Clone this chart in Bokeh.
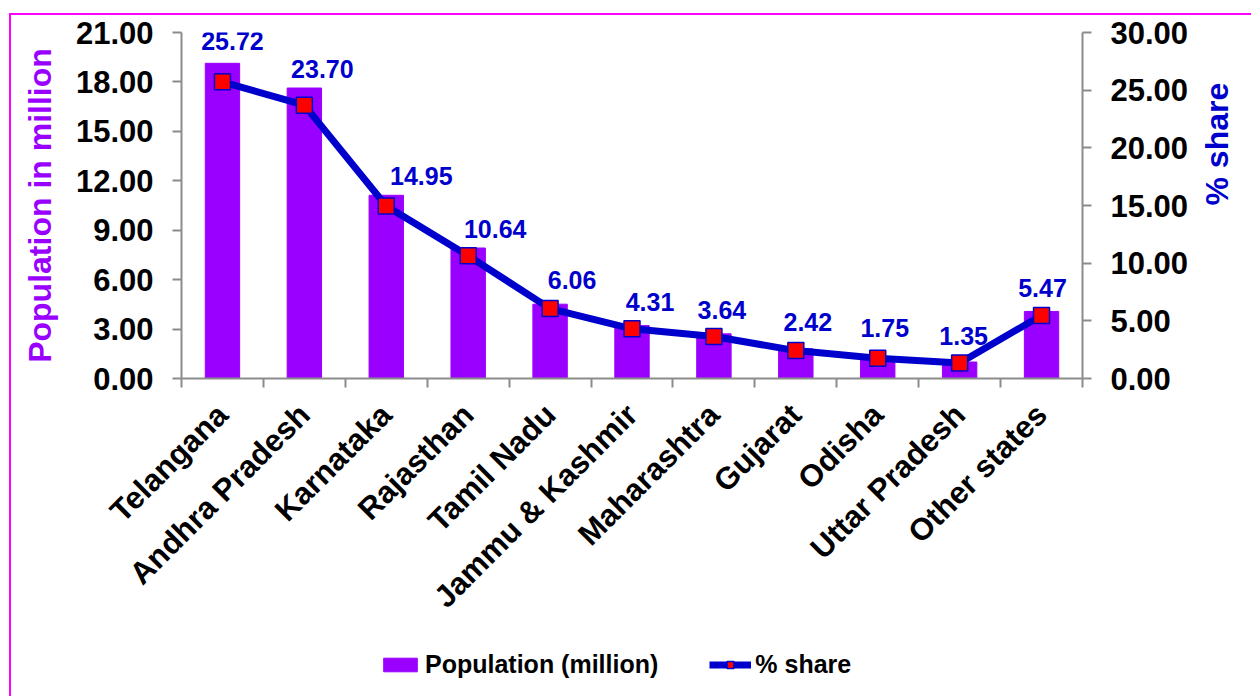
import math
from bokeh.plotting import figure
from bokeh.layouts import column
from bokeh.models import (ColumnDataSource, Range1d, LinearAxis, FixedTicker,
                          NumeralTickFormatter, Legend, LegendItem, LabelSet)
from bokeh.core.properties import value
from bokeh.embed import file_html
from bokeh.resources import INLINE

# ---- data ----
states = ["Telangana", "Andhra Pradesh", "Karnataka", "Rajasthan", "Tamil Nadu",
          "Jammu & Kashmir", "Maharashtra", "Gujarat", "Odisha", "Uttar Pradesh",
          "Other states"]
population_million = [19.13, 17.63, 11.12, 7.92, 4.51, 3.21, 2.71, 1.80, 1.30, 1.00, 4.07]
share_pct = [25.72, 23.70, 14.95, 10.64, 6.06, 4.31, 3.64, 2.42, 1.75, 1.35, 5.47]
share_labels = ["25.72", "23.70", "14.95", "10.64", "6.06", "4.31", "3.64", "2.42",
                "1.75", "1.35", "5.47"]
left_ticks = [0, 3, 6, 9, 12, 15, 18, 21]
right_ticks = [0, 5, 10, 15, 20, 25, 30]

# label nudges in pixels (style only)
label_dx = [10, 18, 35, 27, 22, 18, 8, 12, 7, 4, 1]
label_dy = [41, 36, 30, 27, 29, 27, 27, 29, 30, 27, 27]

FONT = "Liberation Sans"
PURPLE = "#9900FF"
BLUE = "#0000CC"
GREY = "#8C8C8C"
MAGENTA = "#FF00FF"

n = len(states)
xs = [i + 0.5 for i in range(n)]

src = ColumnDataSource(dict(x=xs, pop=population_million, share=share_pct,
                            lab=share_labels, dx=label_dx, dy=label_dy))

p = figure(frame_width=901, frame_height=346, x_range=Range1d(0, n), y_range=Range1d(0, 21),
           output_backend="svg", toolbar_location=None,
           min_border_left=170, min_border_right=169, min_border_top=17,
           min_border_bottom=257)
p.extra_y_ranges = {"share": Range1d(0, 30)}
p.xgrid.visible = False
p.ygrid.visible = False
p.outline_line_color = None

bar_style = dict(fill_color=PURPLE, line_color=PURPLE)
line_style = dict(line_color=BLUE, line_width=7)
mark_style = dict(marker="square", size=16, fill_color="#FF0000", line_color=BLUE,
                  line_width=1.5)

p.vbar(x="x", top="pop", width=0.42, source=src, **bar_style)
p.line(x="x", y="share", source=src, y_range_name="share", **line_style)
p.scatter(x="x", y="share", source=src, y_range_name="share", **mark_style)

labels = LabelSet(x="x", y="share", text="lab", source=src, y_range_name="share",
                  x_offset="dx", y_offset="dy", text_align="center",
                  text_baseline="middle", text_color=BLUE, text_font=value(FONT),
                  text_font_size="25px", text_font_style="bold")
p.add_layout(labels)

# x axis
xa = p.xaxis[0]
xa.ticker = FixedTicker(ticks=xs, minor_ticks=list(range(n + 1)))
xa.major_label_overrides = {x: s for x, s in zip(xs, states)}
xa.major_tick_out = 0
xa.major_tick_in = 0
xa.minor_tick_out = 9
xa.minor_tick_in = 0
xa.minor_tick_line_color = GREY
xa.minor_tick_line_width = 2
xa.axis_line_color = GREY
xa.axis_line_width = 2
xa.major_label_orientation = math.pi / 4
xa.major_label_standoff = 22
xa.major_label_text_font = FONT
xa.major_label_text_font_size = "31px"
xa.major_label_text_font_style = "bold"
xa.major_label_text_color = "black"

# left axis
ya = p.yaxis[0]
ya.ticker = FixedTicker(ticks=left_ticks)
ya.formatter = NumeralTickFormatter(format="0.00")
ya.major_tick_out = 9
ya.major_tick_in = 0
ya.minor_tick_out = 0
ya.major_tick_line_color = GREY
ya.major_tick_line_width = 2
ya.axis_line_color = GREY
ya.axis_line_width = 2
ya.major_label_standoff = 19
ya.major_label_text_font = FONT
ya.major_label_text_font_size = "31px"
ya.major_label_text_font_style = "bold"
ya.major_label_text_color = "black"
ya.axis_label = "Population in million"
ya.axis_label_text_color = PURPLE
ya.axis_label_text_font = FONT
ya.axis_label_text_font_size = "32px"
ya.axis_label_text_font_style = "bold"
ya.axis_label_standoff = 15

# right axis (ticks and numbers)
ra = LinearAxis(y_range_name="share", ticker=FixedTicker(ticks=right_ticks),
                formatter=NumeralTickFormatter(format="0.00"))
ra.major_tick_out = 9
ra.major_tick_in = 0
ra.minor_tick_out = 0
ra.major_tick_line_color = GREY
ra.major_tick_line_width = 2
ra.axis_line_color = GREY
ra.axis_line_width = 2
ra.major_label_standoff = 19
ra.major_label_text_font = FONT
ra.major_label_text_font_size = "31px"
ra.major_label_text_font_style = "bold"
ra.major_label_text_color = "black"
p.add_layout(ra, "right")

# right axis title, read bottom-to-top and centred on the plot height
rt = LinearAxis(y_range_name="share", ticker=FixedTicker(ticks=[]),
                bounds=(0, 19.25))
rt.axis_line_color = None
rt.major_tick_out = 0
rt.major_tick_in = 0
rt.minor_tick_out = 0
rt.minor_tick_in = 0
rt.major_label_standoff = 0
rt.axis_label = "% share"
rt.axis_label_text_color = BLUE
rt.axis_label_text_font = FONT
rt.axis_label_text_font_size = "32px"
rt.axis_label_text_font_style = "bold"
rt.axis_label_standoff = 25
rt.axis_label_orientation = math.pi / 2
p.add_layout(rt, "right")

# legend strip (separate canvas so it is not clipped by the plot frame);
# its renderers reuse the data but lie outside this strip's ranges
leg = figure(width=1240, height=61, x_range=Range1d(100, 101), y_range=Range1d(100, 101),
             output_backend="svg", toolbar_location=None,
             x_axis_location=None, y_axis_location=None, min_border=0)
leg.grid.visible = False
leg.outline_line_color = None
lb = leg.vbar(x="x", top="pop", width=0.42, source=src, **bar_style)
ll = leg.line(x="x", y="share", source=src, **line_style)
lm = leg.scatter(x="x", y="share", source=src, **mark_style)
legend = Legend(items=[LegendItem(label="Population (million)", renderers=[lb]),
                       LegendItem(label="% share", renderers=[ll, lm])],
                orientation="horizontal", location=(198, 17),
                label_text_font=FONT, label_text_font_size="25px",
                label_text_font_style="bold", label_text_color="black",
                glyph_width=42, glyph_height=17, spacing=51, label_standoff=4,
                border_line_color=None, background_fill_alpha=0, padding=0, margin=0)
leg.add_layout(legend, "center")

root = column(p, leg, spacing=0, margin=(13, 0, 0, 9),
              styles={"border-left": "2px solid " + MAGENTA,
                      "border-top": "2px solid " + MAGENTA})

open("out.html", "w").write(file_html(root, INLINE))
